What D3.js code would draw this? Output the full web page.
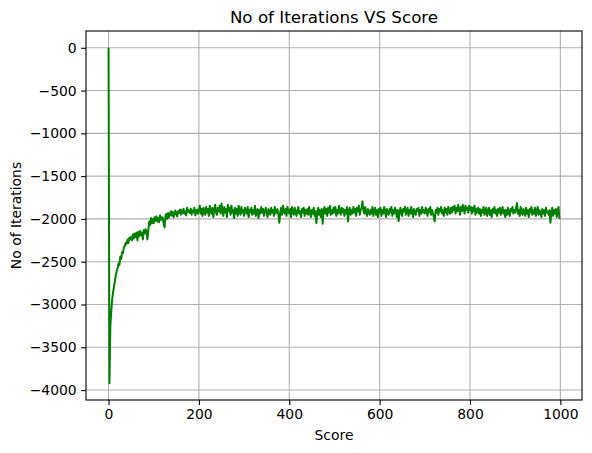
<!DOCTYPE html>
<html>
<head>
<meta charset="utf-8">
<script src="https://cdn.jsdelivr.net/npm/d3@7"></script>
<style>
  body { margin: 0; background: #fff; }
  svg { display: block; font-family: "DejaVu Sans", sans-serif; }
</style>
</head>
<body>
<div id="chart"></div>
<script>
'use strict';

// one score every 2 iterations (0, 2, 4 ... 998)
var iterStep = 2;
var scores = [
  0, -3920, -3250, -3080, -2940, -2860, -2790, -2730, -2660, -2610,
  -2580, -2520, -2540, -2440, -2470, -2390, -2400, -2330, -2320, -2280,
  -2290, -2240, -2280, -2220, -2240, -2210, -2250, -2180, -2230, -2170,
  -2210, -2160, -2250, -2150, -2200, -2140, -2190, -2160, -2240, -2130,
  -2170, -2120, -2150, -2240, -2140, -2030, -2070, -1990, -2050, -2000,
  -2050, -1980, -2020, -1970, -2030, -1990, -2040, -1960, -2010, -1980,
  -1990, -2060, -2100, -1960, -1940, -2000, -1930, -1980, -1950, -1910,
  -1960, -1920, -1980, -1940, -1900, -1950, -1970, -1910, -1930, -1890,
  -1950, -1900, -1930, -1880, -1940, -1910, -1960, -1870, -1920, -1900,
  -1930, -1880, -1950, -1900, -1920, -1870, -1960, -1910, -1890, -1940,
  -1897, -1845, -1938, -1885, -1965, -1870, -1910, -1952, -1860, -1925,
  -1885, -1965, -1845, -1910, -1938, -1870, -1978, -1897, -1835, -1925,
  -1952, -1870, -1910, -1845, -1938, -1820, -1897, -1965, -1860, -1925,
  -1885, -1978, -1835, -1910, -1870, -1952, -1845, -1925, -1897, -1990,
  -1870, -1938, -1885, -1965, -1845, -1910, -1952, -1860, -1925, -1897,
  -1965, -1870, -1910, -1938, -1860, -1978, -1897, -1925, -1870, -1952,
  -1897, -1938, -1845, -1965, -1910, -1885, -1990, -1897, -1938, -1860,
  -1925, -1885, -1965, -1910, -1870, -1938, -1978, -1885, -1910, -1952,
  -1870, -1925, -1897, -1965, -1860, -1938, -1910, -1885, -1952, -2045,
  -1925, -1870, -1952, -1845, -1910, -1938, -1885, -1965, -1860, -1910,
  -1938, -1885, -1978, -1860, -1910, -1952, -1870, -1925, -1965, -1897,
  -1860, -1938, -1910, -1978, -1885, -1925, -1870, -1965, -1897, -1938,
  -1885, -1952, -1860, -1925, -1978, -1897, -1938, -1870, -1965, -1910,
  -2050, -1925, -1870, -1952, -1897, -1978, -1885, -2055, -1910, -1860,
  -1938, -1885, -1965, -1870, -1925, -1845, -1952, -1897, -1938, -1870,
  -1925, -1860, -1965, -1897, -1938, -1845, -1910, -1952, -1870, -1925,
  -1885, -1965, -1897, -1938, -1860, -2030, -1910, -1870, -1952, -1897,
  -1938, -1860, -1925, -1885, -1965, -1870, -1910, -1845, -1952, -1897,
  -1870, -1795, -1897, -1938, -1860, -1925, -1965, -1885, -1910, -1952,
  -1897, -1938, -1860, -1965, -1910, -1870, -1952, -1897, -1978, -1885,
  -1925, -1870, -1965, -1897, -1938, -1860, -1910, -1978, -1885, -1925,
  -1952, -1885, -1925, -1860, -1965, -1897, -1938, -1870, -1910, -1978,
  -1897, -2025, -1938, -1870, -1925, -1965, -1885, -1910, -1860, -1952,
  -1910, -1870, -1965, -1897, -1938, -1860, -1925, -1978, -1885, -1925,
  -1952, -1885, -1910, -1870, -1965, -1897, -1938, -1860, -1925, -1897,
  -1938, -1870, -1910, -1965, -1885, -1925, -1860, -1952, -1897, -1938,
  -1978, -2030, -1897, -1925, -1870, -1952, -1885, -1910, -1860, -1938,
  -1897, -1965, -1870, -1925, -1885, -1952, -1860, -1910, -1938, -1870,
  -1925, -1860, -1897, -1845, -1938, -1870, -1910, -1835, -1897, -1952,
  -1860, -1910, -1835, -1885, -1938, -1845, -1897, -1870, -1925, -1845,
  -1897, -1860, -1938, -1870, -1910, -1845, -1952, -1885, -1925, -1870,
  -1938, -1885, -1965, -1897, -1925, -1860, -1952, -1910, -1870, -1965,
  -1910, -1870, -1952, -1897, -1978, -1885, -1925, -1860, -1938, -1897,
  -1965, -1885, -1925, -1870, -1952, -1910, -1860, -1938, -1897, -1978,
  -1897, -1952, -1870, -1925, -1965, -1885, -1910, -1860, -1938, -1897,
  -1925, -1870, -1815, -1938, -1897, -1965, -1860, -1910, -1952, -1885,
  -1910, -1965, -1870, -1938, -1897, -1978, -1885, -1925, -1860, -1952,
  -1897, -1938, -1870, -1965, -1910, -1860, -1952, -1897, -1925, -1978,
  -1885, -1938, -1897, -1965, -1870, -1925, -1910, -1952, -1897, -2045,
  -1925, -1870, -1965, -1897, -1938, -1885, -1978, -1910, -1860, -2000
];
var xTicks = [0, 200, 400, 600, 800, 1000];
var yTicks = [0, -500, -1000, -1500, -2000, -2500, -3000, -3500, -4000];

var width = 592, height = 453;
var margin = {top: 31, right: 10, bottom: 53, left: 86};
var w = width - margin.left - margin.right;
var h = height - margin.top - margin.bottom;

var data = scores.map(function(d, i){
  return {it: i * iterStep, score: d};
});

var xMax = d3.max(data, function(d){ return d.it; });
var yMin = d3.min(scores), yMax = d3.max(scores);
var xPad = xMax * 0.05, yPad = (yMax - yMin) * 0.05;

var x = d3.scaleLinear().domain([-xPad, xMax + xPad]).range([0, w]);
var y = d3.scaleLinear().domain([yMin - yPad, yMax + yPad]).range([h, 0]);

var svg = d3.select("#chart").append("svg")
  .attr("width", width)
  .attr("height", height);

var g = svg.append("g")
  .attr("transform", "translate(" + margin.left + "," + margin.top + ")");

// grid
g.append("g").selectAll("line").data(xTicks).enter().append("line")
  .attr("x1", function(d){ return x(d); })
  .attr("x2", function(d){ return x(d); })
  .attr("y1", 0).attr("y2", h)
  .attr("stroke", "#b0b0b0").attr("stroke-width", 1.1);
g.append("g").selectAll("line").data(yTicks).enter().append("line")
  .attr("y1", function(d){ return y(d); })
  .attr("y2", function(d){ return y(d); })
  .attr("x1", 0).attr("x2", w)
  .attr("stroke", "#b0b0b0").attr("stroke-width", 1.1);

var line = d3.line()
  .x(function(d){ return x(d.it); })
  .y(function(d){ return y(d.score); });

g.append("path")
  .datum(data)
  .attr("fill", "none")
  .attr("stroke", "#008000")
  .attr("stroke-width", 2)
  .attr("stroke-linejoin", "round")
  .attr("d", line);

var fmt = d3.format("d");
var xAxis = d3.axisBottom(x).tickValues(xTicks).tickFormat(fmt).tickSize(4.9).tickPadding(4.4);
var yAxis = d3.axisLeft(y).tickValues(yTicks).tickFormat(fmt).tickSize(4.9).tickPadding(4.4);

var gx = g.append("g").attr("transform", "translate(0," + h + ")").call(xAxis);
var gy = g.append("g").call(yAxis);

[gx, gy].forEach(function(ax){
  ax.select(".domain").remove();
  ax.selectAll("line").attr("stroke", "#000").attr("stroke-width", 1.1);
  ax.selectAll("text")
    .attr("fill", "#000")
    .style("font-size", "13.9px")
    .style("font-family", "DejaVu Sans");
});

// frame
g.append("rect")
  .attr("width", w).attr("height", h)
  .attr("fill", "none")
  .attr("stroke", "#000")
  .attr("stroke-width", 1.1);

svg.append("text")
  .attr("x", margin.left + w / 2)
  .attr("y", margin.top - 8.5)
  .attr("text-anchor", "middle")
  .style("font-size", "16.7px")
  .text("No of Iterations VS Score");

svg.append("text")
  .attr("x", margin.left + w / 2)
  .attr("y", 440)
  .attr("text-anchor", "middle")
  .style("font-size", "13.9px")
  .text("Score");

svg.append("text")
  .attr("transform", "translate(21," + (margin.top + h / 2) + ") rotate(-90)")
  .attr("text-anchor", "middle")
  .style("font-size", "13.9px")
  .text("No of Iterations");
</script>
</body>
</html>
